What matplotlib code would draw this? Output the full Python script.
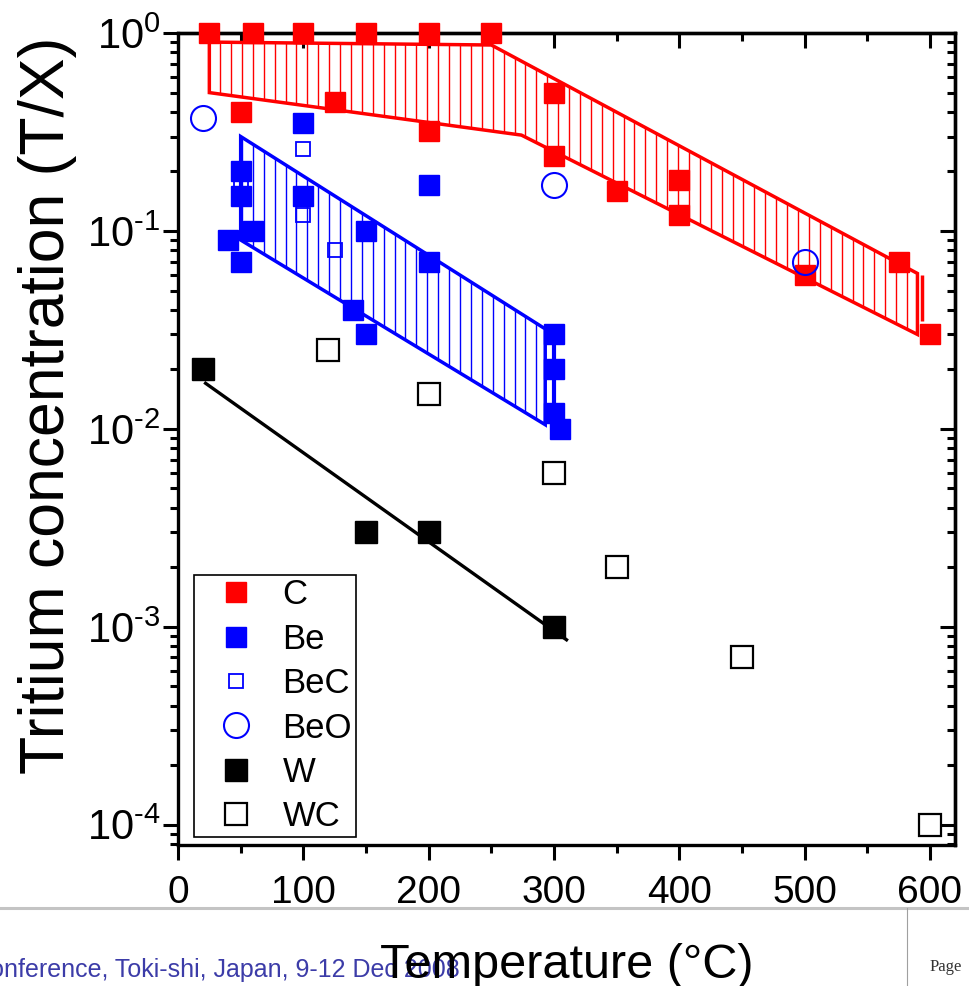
import numpy as np
import matplotlib
matplotlib.use("Agg")
import matplotlib.pyplot as plt
from matplotlib.patches import Polygon
from matplotlib.lines import Line2D
from matplotlib.ticker import LogLocator, MultipleLocator, NullFormatter, FuncFormatter

plt.rcParams['font.family'] = ['Liberation Sans', 'DejaVu Sans']
plt.rcParams['mathtext.fontset'] = 'custom'
plt.rcParams['mathtext.rm'] = 'Liberation Sans'
plt.rcParams['mathtext.it'] = 'Liberation Sans:italic'
plt.rcParams['mathtext.bf'] = 'Liberation Sans:bold'
plt.rcParams['axes.unicode_minus'] = False

# Datos (temperatura en C, concentracion T/X)
c_temp = [25, 60, 100, 150, 200, 250, 50, 125, 200, 300, 300, 350, 400, 400, 500, 575, 600]
c_conc = [1.0, 1.0, 1.0, 1.0, 1.0, 1.0, 0.40, 0.45, 0.32, 0.50, 0.24, 0.16, 0.18, 0.12, 0.06, 0.07, 0.03]

be_temp = [40, 50, 50, 50, 60, 100, 100, 140, 150, 150, 200, 200, 300, 300, 300, 305]
be_conc = [0.09, 0.20, 0.15, 0.07, 0.10, 0.35, 0.15, 0.04, 0.10, 0.03, 0.17, 0.07, 0.03, 0.02, 0.012, 0.01]

bec_temp = [50, 100, 100, 125]
bec_conc = [0.18, 0.26, 0.12, 0.08]

beo_temp = [20, 300, 500]
beo_conc = [0.37, 0.17, 0.07]

w_temp = [20, 150, 200, 300]
w_conc = [0.02, 0.003, 0.003, 0.001]

wc_temp = [120, 200, 300, 350, 450, 600]
wc_conc = [0.025, 0.015, 0.006, 0.002, 0.0007, 0.0001]

# Bandas de dispersion (contornos)
c_band_temp = [25, 250, 590, 590, 274, 25]
c_band_conc = [0.90, 0.87, 0.061, 0.030, 0.305, 0.50]
be_band_temp = [50, 293, 293, 50]
be_band_conc = [0.30, 0.032, 0.0105, 0.09]

# Barras verticales extra
c_bar = (594, 0.035, 0.06)
be_bar = (300, 0.012, 0.03)

# Ajuste lineal de W
w_fit_temp = [22, 310]
w_fit_conc = [0.017, 0.00086]

labels = ["C", "Be", "BeC", "BeO", "W", "WC"]


def pow10(v, pos):
    e = int(round(np.log10(v)))
    s = str(e).replace('-', r'\text{-}')
    return r'$\mathdefault{10^{%s}}$' % s


fig = plt.figure(figsize=(9.69, 9.86), dpi=100)
ax = fig.add_axes([0.1837, 0.1430, 0.8019, 0.8235])
ax.set_yscale('log')
ax.set_xlim(0, 620)
ax.set_ylim(7.9e-5, 1)

# bandas con rayado vertical
hatch_x = np.arange(7.5, 620, 8.7)
for bt, bc, col in [(c_band_temp, c_band_conc, 'red'), (be_band_temp, be_band_conc, 'blue')]:
    poly = Polygon(np.column_stack([bt, bc]), closed=True, facecolor='none',
                   edgecolor=col, lw=2.5, joinstyle='miter', zorder=2)
    ax.add_patch(poly)
    lc = ax.vlines(hatch_x, 7.9e-5, 1, colors=col, lw=1.0, zorder=1)
    lc.set_clip_path(poly)

ax.vlines([c_bar[0]], c_bar[1], c_bar[2], colors='red', lw=2.5, zorder=2)
ax.vlines([be_bar[0]], be_bar[1], be_bar[2], colors='blue', lw=3, zorder=2)
ax.plot(w_fit_temp, w_fit_conc, color='black', lw=2.4, zorder=2)

ax.plot(c_temp, c_conc, 's', ms=14, color='red', mec='red', ls='none', label=labels[0], zorder=4, clip_on=False)
ax.plot(be_temp, be_conc, 's', ms=14, color='blue', mec='blue', ls='none', label=labels[1], zorder=4)
ax.plot(bec_temp, bec_conc, 's', ms=10.5, mfc='none', mec='blue', mew=1.3, ls='none', label=labels[2], zorder=5)
ax.plot(beo_temp, beo_conc, 'o', ms=18, mfc='none', mec='blue', mew=1.5, ls='none', label=labels[3], zorder=5)
ax.plot(w_temp, w_conc, 's', ms=16.5, color='black', ls='none', label=labels[4], zorder=5)
ax.plot(wc_temp, wc_conc, 's', ms=16, mfc='white', mec='black', mew=1.6, ls='none', label=labels[5], zorder=5)

# ejes: izquierda/abajo hacia fuera, arriba/derecha hacia dentro
ax.xaxis.set_major_locator(MultipleLocator(100))
ax.xaxis.set_minor_locator(MultipleLocator(50))
ax.yaxis.set_major_locator(LogLocator(base=10, numticks=10))
ax.yaxis.set_minor_locator(LogLocator(base=10, subs=np.arange(2, 10), numticks=20))
ax.yaxis.set_major_formatter(FuncFormatter(pow10))
ax.yaxis.set_minor_formatter(NullFormatter())
ax.tick_params(which='both', direction='out', width=2.2)
ax.tick_params(which='major', length=10.5)
ax.tick_params(which='minor', length=5.5)
ax.tick_params(axis='x', pad=11, labelsize=28)
ax.tick_params(axis='y', pad=2, labelsize=30)
for s in ax.spines.values():
    s.set_linewidth(2.4)

top = ax.secondary_xaxis('top')
top.xaxis.set_major_locator(MultipleLocator(100))
top.xaxis.set_minor_locator(MultipleLocator(50))
top.xaxis.set_major_formatter(NullFormatter())
top.tick_params(which='both', direction='in', width=2.2)
top.tick_params(which='major', length=11)
top.tick_params(which='minor', length=6)

right = ax.secondary_yaxis('right')
right.yaxis.set_major_locator(LogLocator(base=10, numticks=10))
right.yaxis.set_minor_locator(LogLocator(base=10, subs=np.arange(2, 10), numticks=20))
right.yaxis.set_major_formatter(NullFormatter())
right.yaxis.set_minor_formatter(NullFormatter())
right.tick_params(which='both', direction='in', width=2.2)
right.tick_params(which='major', length=11)
right.tick_params(which='minor', length=6)
for sec in (top, right):
    for s in sec.spines.values():
        s.set_linewidth(2.4)

ax.set_ylabel("Tritium concentration (T/X)", fontsize=45, va='center', ha='center')
ax.yaxis.set_label_coords(-0.1675, 0.542)
ax.set_xlabel("Temperature (°C)", fontsize=35, va='baseline', ha='center')
ax.xaxis.set_label_coords(0.5, -0.1638)

leg = ax.legend(loc='lower left', bbox_to_anchor=(0.0206, 0.0099), borderaxespad=0,
                fontsize=25, numpoints=1, fancybox=False, edgecolor='black', framealpha=1,
                borderpad=0.1, handlelength=2.2, handletextpad=0.25, labelspacing=0.33)
leg.get_frame().set_linewidth(1.2)

# pie de pagina de la diapositiva
fig.add_artist(Line2D([0, 1], [1 - 908 / 986] * 2, transform=fig.transFigure, color='#c4c4c4', lw=2.2))
fig.add_artist(Line2D([907 / 969] * 2, [0, 1 - 908 / 986], transform=fig.transFigure, color='#a0a0a0', lw=0.8))
fig.text(460 / 969, 1 - 977 / 986, "18th International Toki Conference, Toki-shi, Japan, 9-12 Dec 2008",
         fontsize=18, color='#3c3ca8', ha='right', va='baseline', zorder=-1)
fig.text(930 / 969, 1 - 971 / 986, "Page", fontsize=12, family='Liberation Serif',
         color='#333333', ha='left', va='baseline')

fig.savefig("out.png", dpi=100)
